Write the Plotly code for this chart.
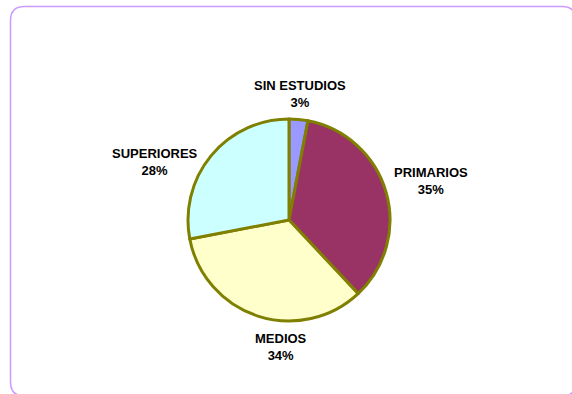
import plotly.graph_objects as go

# Nivel de estudios
categories = ["SIN ESTUDIOS", "PRIMARIOS", "MEDIOS", "SUPERIORES"]
values = [3, 35, 34, 28]
colors = ["#9999FF", "#993366", "#FFFFCC", "#CCFFFF"]

# label anchors (paper coordinates) for each category
label_pos = [(0.5245, 0.7614), (0.7535, 0.5406), (0.4913, 0.1193), (0.2710, 0.5888)]

W, H = 572, 394

fig = go.Figure()
fig.add_trace(go.Pie(
    labels=categories,
    values=values,
    sort=False,
    direction="clockwise",
    rotation=0,
    marker=dict(colors=colors, line=dict(color="#808000", width=3)),
    textinfo="none",
    hoverinfo="label+percent",
    showlegend=False,
    domain=dict(x=[188 / W, 390 / W], y=[73 / H, 275 / H]),
))

total = sum(values)
for cat, val, (x, y) in zip(categories, values, label_pos):
    pct = round(100 * val / total)
    fig.add_annotation(
        x=x, y=y, xref="paper", yref="paper",
        xanchor="center", yanchor="middle",
        text=f"<b>{cat}</b><br><b>{pct}%</b>",
        showarrow=False, align="center",
        font=dict(family="Liberation Sans, Arial, sans-serif", size=13, color="#000000"),
    )

# rounded frame around the chart area
def px(x):
    return x / W

def py(y):
    return 1 - y / H

x0, y0, x1, y1, r = 10.5, 6.5, 576, 396, 14
path = (
    f"M {px(x0 + r)},{py(y0)} L {px(x1 - r)},{py(y0)} "
    f"Q {px(x1)},{py(y0)} {px(x1)},{py(y0 + r)} "
    f"L {px(x1)},{py(y1 - r)} Q {px(x1)},{py(y1)} {px(x1 - r)},{py(y1)} "
    f"L {px(x0 + r)},{py(y1)} Q {px(x0)},{py(y1)} {px(x0)},{py(y1 - r)} "
    f"L {px(x0)},{py(y0 + r)} Q {px(x0)},{py(y0)} {px(x0 + r)},{py(y0)} Z"
)
fig.add_shape(type="path", path=path, xref="paper", yref="paper",
              line=dict(color="#CC99FF", width=1.5), fillcolor="rgba(0,0,0,0)")

fig.update_layout(
    width=W, height=H,
    margin=dict(l=0, r=0, t=0, b=0),
    paper_bgcolor="#FFFFFF",
    plot_bgcolor="#FFFFFF",
)

fig.write_html("out.html")
